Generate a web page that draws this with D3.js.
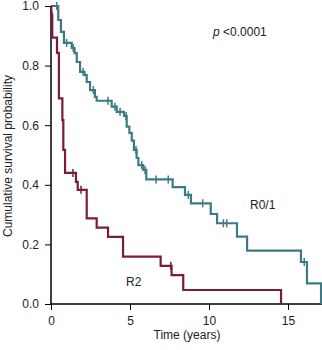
<!DOCTYPE html>
<html>
<head>
<meta charset="utf-8">
<script src="https://cdn.jsdelivr.net/npm/d3@7/dist/d3.min.js"></script>
<style>
html,body{margin:0;padding:0;background:#fff;}
svg text{font-family:"Liberation Sans",Arial,Helvetica,sans-serif;}
</style>
</head>
<body>
<svg id="chart" width="322" height="350"></svg>
<script>
// R0/1 group: event times (years) and survival after each step
const r01Times = [0.46,0.63,0.82,1.31,1.49,1.63,1.84,2.12,2.26,2.47,2.78,2.89,3.84,4.16,4.62,4.79,4.96,5.11,5.25,5.42,5.53,5.84,6.03,7.70,8.48,8.86,10.11,10.51,11.77,12.41,15.82,16.20,17.09];
const r01Surv  = [0.953,0.913,0.876,0.859,0.842,0.812,0.779,0.768,0.745,0.718,0.695,0.682,0.662,0.645,0.631,0.595,0.574,0.548,0.517,0.490,0.466,0.450,0.418,0.392,0.366,0.338,0.302,0.271,0.226,0.179,0.141,0.069,0.0];
const r01Censor = [0.36,0.99,1.41,2.03,2.68,3.61,4.05,4.37,4.75,5.38,5.74,5.95,6.65,7.42,8.69,9.60,10.91,11.12,16.03];

// R2 group
const r2Times = [0.02,0.08,0.38,0.50,0.72,0.78,0.89,1.58,1.69,2.26,2.89,3.61,4.56,6.94,7.63,8.37,14.56];
const r2Surv  = [0.97,0.894,0.843,0.69,0.617,0.517,0.44,0.41,0.383,0.287,0.256,0.225,0.159,0.128,0.097,0.047,0.0];
const r2Censor = [0.05,1.39,1.90,7.58];

const xTicks = [0,5,10,15];
const yTicks = [0,0.2,0.4,0.6,0.8,1.0];

const colR01 = "#3d7a86";
const colR2 = "#7b1c3a";

const svg = d3.select("#chart");
const x = d3.scaleLinear().domain([0,17.2]).range([51, 51+17.2*15.8]);
const y = d3.scaleLinear().domain([0,1]).range([304,6]);

// axes
const yAxis = d3.axisLeft(y).tickValues(yTicks).tickFormat(d3.format(".1f")).tickSize(6).tickPadding(6);
const xAxis = d3.axisBottom(x).tickValues(xTicks).tickFormat(d3.format("d")).tickSize(6).tickPadding(6);

const gy = svg.append("g").attr("transform","translate(51,0)").call(yAxis);
const gx = svg.append("g").attr("transform","translate(0,304)").call(xAxis);
[gy,gx].forEach(g=>{
  g.select(".domain").attr("stroke","#000").attr("stroke-width",1.5);
  g.selectAll(".tick line").attr("stroke","#000").attr("stroke-width",1);
  g.selectAll(".tick text").attr("font-size",12).attr("fill","#222").attr("font-family","'Liberation Sans',Arial,sans-serif");
});
gx.select(".domain").attr("d","M51,0H322");
gy.select(".domain").attr("d","M0,6V304");

function stepData(times, surv){
  const pts = [[0,1]];
  times.forEach((t,i)=>pts.push([t,surv[i]]));
  return pts;
}
function survAt(times, surv, t){
  let s = 1;
  for(let i=0;i<times.length;i++){ if(times[i]<=t) s = surv[i]; }
  return s;
}
const line = d3.line().x(d=>x(d[0])).y(d=>y(d[1])).curve(d3.curveStepAfter);

function drawGroup(times, surv, censor, color){
  svg.append("path").datum(stepData(times,surv))
    .attr("d",line).attr("fill","none").attr("stroke",color).attr("stroke-width",2.2);
  svg.append("g").selectAll("line").data(censor).join("line")
    .attr("x1",d=>x(d)).attr("x2",d=>x(d))
    .attr("y1",d=>y(survAt(times,surv,d))-4)
    .attr("y2",d=>y(survAt(times,surv,d))+4)
    .attr("stroke",color).attr("stroke-width",1.5);
}
drawGroup(r01Times, r01Surv, r01Censor, colR01);
drawGroup(r2Times, r2Surv, r2Censor, colR2);

// labels
svg.append("text").attr("x",187).attr("y",339).attr("text-anchor","middle")
  .attr("font-size",12).attr("fill","#222").text("Time (years)");
svg.append("text").attr("transform","translate(12,156) rotate(-90)").attr("text-anchor","middle")
  .attr("font-size",12).attr("fill","#222").text("Cumulative survival probability");
const p = svg.append("text").attr("x",213).attr("y",36).attr("font-size",12).attr("fill","#222");
p.append("tspan").attr("font-style","italic").text("p");
p.append("tspan").text(" <0.0001");
svg.append("text").attr("x",250).attr("y",209).attr("font-size",12).attr("fill","#222").text("R0/1");
svg.append("text").attr("x",126).attr("y",286).attr("font-size",12).attr("fill","#222").text("R2");
</script>
</body>
</html>
